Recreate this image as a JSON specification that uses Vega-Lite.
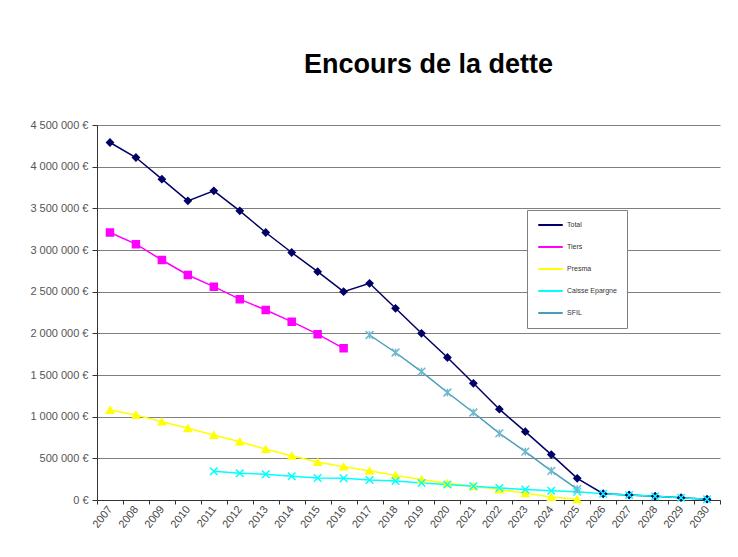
{
  "$schema": "https://vega.github.io/schema/vega-lite/v6.json",
  "autosize": {"type": "none"},
  "width": 623,
  "height": 375,
  "padding": {"left": 97, "top": 125, "right": 18, "bottom": 57},
  "background": "white",
  "title": {
    "text": "Encours de la dette",
    "font": "Liberation Sans",
    "fontSize": 27,
    "fontWeight": "bold",
    "color": "#000000",
    "anchor": "middle",
    "dx": 20,
    "offset": 40
  },
  "config": {
    "view": {"stroke": null},
    "font": "Liberation Sans"
  },
  "resolve": {"legend": {"shape": "independent", "fill": "independent", "stroke": "independent", "size": "independent", "strokeWidth": "independent"}},
  "data": {
    "values": [
      {"year": "2007", "serie": "Total", "value": 4290000},
      {"year": "2008", "serie": "Total", "value": 4110000},
      {"year": "2009", "serie": "Total", "value": 3850000},
      {"year": "2010", "serie": "Total", "value": 3590000},
      {"year": "2011", "serie": "Total", "value": 3710000},
      {"year": "2012", "serie": "Total", "value": 3470000},
      {"year": "2013", "serie": "Total", "value": 3210000},
      {"year": "2014", "serie": "Total", "value": 2970000},
      {"year": "2015", "serie": "Total", "value": 2740000},
      {"year": "2016", "serie": "Total", "value": 2500000},
      {"year": "2017", "serie": "Total", "value": 2600000},
      {"year": "2018", "serie": "Total", "value": 2300000},
      {"year": "2019", "serie": "Total", "value": 2000000},
      {"year": "2020", "serie": "Total", "value": 1710000},
      {"year": "2021", "serie": "Total", "value": 1400000},
      {"year": "2022", "serie": "Total", "value": 1090000},
      {"year": "2023", "serie": "Total", "value": 820000},
      {"year": "2024", "serie": "Total", "value": 545000},
      {"year": "2025", "serie": "Total", "value": 260000},
      {"year": "2026", "serie": "Total", "value": 75000},
      {"year": "2027", "serie": "Total", "value": 60000},
      {"year": "2028", "serie": "Total", "value": 45000},
      {"year": "2029", "serie": "Total", "value": 28000},
      {"year": "2030", "serie": "Total", "value": 10000},
      {"year": "2007", "serie": "Tiers", "value": 3210000},
      {"year": "2008", "serie": "Tiers", "value": 3070000},
      {"year": "2009", "serie": "Tiers", "value": 2880000},
      {"year": "2010", "serie": "Tiers", "value": 2700000},
      {"year": "2011", "serie": "Tiers", "value": 2560000},
      {"year": "2012", "serie": "Tiers", "value": 2410000},
      {"year": "2013", "serie": "Tiers", "value": 2280000},
      {"year": "2014", "serie": "Tiers", "value": 2140000},
      {"year": "2015", "serie": "Tiers", "value": 1990000},
      {"year": "2016", "serie": "Tiers", "value": 1820000},
      {"year": "2007", "serie": "Presma", "value": 1080000},
      {"year": "2008", "serie": "Presma", "value": 1020000},
      {"year": "2009", "serie": "Presma", "value": 940000},
      {"year": "2010", "serie": "Presma", "value": 860000},
      {"year": "2011", "serie": "Presma", "value": 780000},
      {"year": "2012", "serie": "Presma", "value": 700000},
      {"year": "2013", "serie": "Presma", "value": 610000},
      {"year": "2014", "serie": "Presma", "value": 530000},
      {"year": "2015", "serie": "Presma", "value": 455000},
      {"year": "2016", "serie": "Presma", "value": 400000},
      {"year": "2017", "serie": "Presma", "value": 350000},
      {"year": "2018", "serie": "Presma", "value": 295000},
      {"year": "2019", "serie": "Presma", "value": 245000},
      {"year": "2020", "serie": "Presma", "value": 200000},
      {"year": "2021", "serie": "Presma", "value": 165000},
      {"year": "2022", "serie": "Presma", "value": 125000},
      {"year": "2023", "serie": "Presma", "value": 80000},
      {"year": "2024", "serie": "Presma", "value": 35000},
      {"year": "2025", "serie": "Presma", "value": 8000},
      {"year": "2011", "serie": "Caisse Epargne", "value": 345000},
      {"year": "2012", "serie": "Caisse Epargne", "value": 320000},
      {"year": "2013", "serie": "Caisse Epargne", "value": 310000},
      {"year": "2014", "serie": "Caisse Epargne", "value": 285000},
      {"year": "2015", "serie": "Caisse Epargne", "value": 265000},
      {"year": "2016", "serie": "Caisse Epargne", "value": 260000},
      {"year": "2017", "serie": "Caisse Epargne", "value": 240000},
      {"year": "2018", "serie": "Caisse Epargne", "value": 228000},
      {"year": "2019", "serie": "Caisse Epargne", "value": 205000},
      {"year": "2020", "serie": "Caisse Epargne", "value": 185000},
      {"year": "2021", "serie": "Caisse Epargne", "value": 165000},
      {"year": "2022", "serie": "Caisse Epargne", "value": 145000},
      {"year": "2023", "serie": "Caisse Epargne", "value": 125000},
      {"year": "2024", "serie": "Caisse Epargne", "value": 110000},
      {"year": "2025", "serie": "Caisse Epargne", "value": 100000},
      {"year": "2026", "serie": "Caisse Epargne", "value": 75000},
      {"year": "2027", "serie": "Caisse Epargne", "value": 60000},
      {"year": "2028", "serie": "Caisse Epargne", "value": 45000},
      {"year": "2029", "serie": "Caisse Epargne", "value": 28000},
      {"year": "2030", "serie": "Caisse Epargne", "value": 10000},
      {"year": "2017", "serie": "SFIL", "value": 1980000},
      {"year": "2018", "serie": "SFIL", "value": 1770000},
      {"year": "2019", "serie": "SFIL", "value": 1540000},
      {"year": "2020", "serie": "SFIL", "value": 1290000},
      {"year": "2021", "serie": "SFIL", "value": 1050000},
      {"year": "2022", "serie": "SFIL", "value": 800000},
      {"year": "2023", "serie": "SFIL", "value": 580000},
      {"year": "2024", "serie": "SFIL", "value": 350000},
      {"year": "2025", "serie": "SFIL", "value": 130000}
    ]
  },
  "encoding": {
    "x": {
      "field": "year",
      "type": "ordinal",
      "scale": {"type": "band", "paddingInner": 0, "paddingOuter": 0},
      "axis": {
        "title": null,
        "labelAngle": -52,
        "labelAlign": "right",
        "labelBaseline": "middle",
        "labelFontSize": 11,
        "labelColor": "#444444",
        "labelPadding": 3,
        "tickBand": "extent",
        "tickSize": 4,
        "tickColor": "#333333",
        "domainColor": "#333333",
        "grid": false
      }
    },
    "y": {
      "field": "value",
      "type": "quantitative",
      "scale": {"domain": [0, 4500000], "nice": false},
      "axis": {
        "title": null,
        "values": [0, 500000, 1000000, 1500000, 2000000, 2500000, 3000000, 3500000, 4000000, 4500000],
        "labelExpr": "replace(format(datum.value, ','), regexp(',', 'g'), ' ') + ' €'",
        "labelFontSize": 11,
        "labelColor": "#555555",
        "labelPadding": 4,
        "tickSize": 5,
        "tickColor": "#333333",
        "domainColor": "#333333",
        "grid": true,
        "gridColor": "#7f7f7f",
        "gridWidth": 1
      }
    }
  },
  "layer": [
    {
      "mark": {"type": "line"},
      "encoding": {
        "color": {
          "field": "serie",
          "type": "nominal",
          "scale": {
            "domain": ["Total", "Tiers", "Presma", "Caisse Epargne", "SFIL"],
            "range": ["#000066", "#ff00ff", "#ffff00", "#00ffff", "#4a9db8"]
          },
          "legend": {
            "title": null,
            "orient": "none",
            "legendX": 430,
            "legendY": 85,
            "symbolType": "stroke",
            "symbolSize": 600,
            "symbolStrokeWidth": 2,
            "labelFontSize": 7,
            "labelColor": "#333333",
            "labelOffset": 3,
            "rowPadding": 12,
            "clipHeight": 10,
            "padding": 10,
            "strokeColor": "#7f7f7f",
            "fillColor": "white",
            "labelLimit": 90
          }
        },
        "strokeWidth": {
          "field": "serie",
          "type": "nominal",
          "scale": {
            "domain": ["Total", "Tiers", "Presma", "Caisse Epargne", "SFIL"],
            "range": [1.5, 1.5, 2, 2, 3]
          },
          "legend": null
        }
      }
    },
    {
      "mark": {"type": "point", "filled": true, "strokeWidth": 1.5, "opacity": 1},
      "encoding": {
        "fill": {
          "field": "serie",
          "type": "nominal",
          "scale": {
            "domain": ["Total", "Tiers", "Presma", "Caisse Epargne", "SFIL"],
            "range": ["#000066", "#ff00ff", "#ffff00", "#00ffff", "#6fb8d0"]
          },
          "legend": null
        },
        "stroke": {
          "field": "serie",
          "type": "nominal",
          "scale": {
            "domain": ["Total", "Tiers", "Presma", "Caisse Epargne", "SFIL"],
            "range": ["#000066", "#ff00ff", "#ffff00", "#00ffff", "#6fb8d0"]
          },
          "legend": null
        },
        "shape": {
          "field": "serie",
          "type": "nominal",
          "scale": {
            "domain": ["Total", "Tiers", "Presma", "Caisse Epargne", "SFIL"],
            "range": ["diamond", "square", "triangle-up", "M-1,-1L1,1M-1,1L1,-1", "M-1,-1L1,1M-1,1L1,-1M0,-1L0,1"]
          },
          "legend": null
        },
        "size": {
          "field": "serie",
          "type": "nominal",
          "scale": {
            "domain": ["Total", "Tiers", "Presma", "Caisse Epargne", "SFIL"],
            "range": [45, 60, 45, 40, 110]
          },
          "legend": null
        }
      }
    }
  ]
}
